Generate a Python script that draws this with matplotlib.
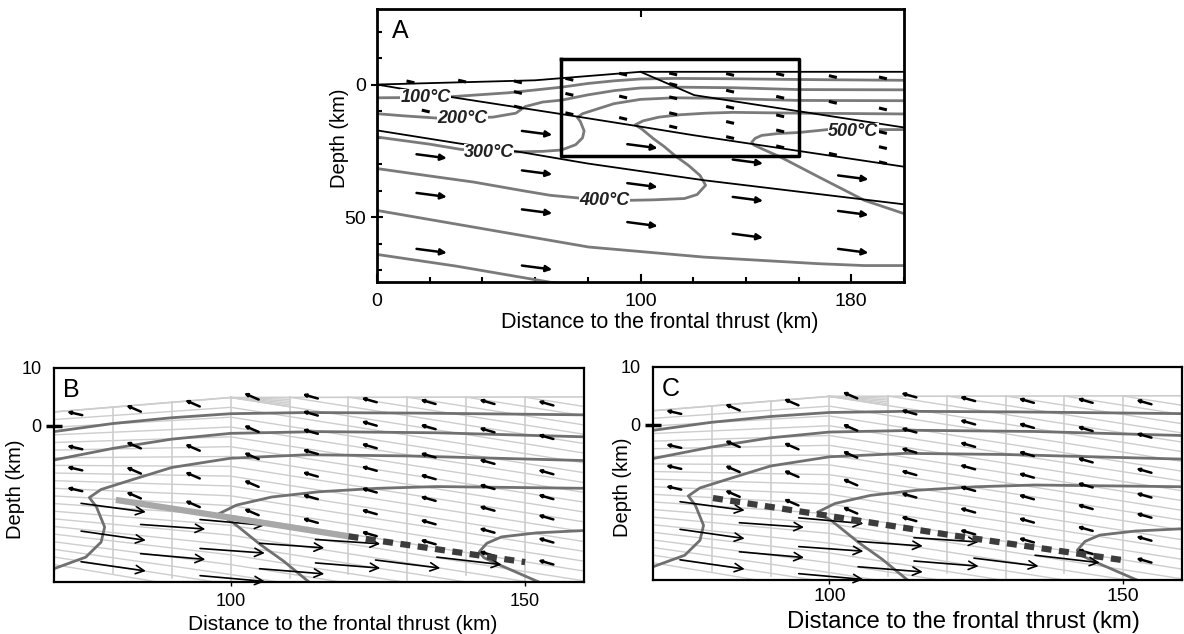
import numpy as np
import matplotlib
matplotlib.use('Agg')
import matplotlib.pyplot as plt

plt.rcParams['font.family'] = ['Liberation Sans', 'DejaVu Sans']

# ---------------- data (distance km, depth km positive down) ----------------
surface_x = [0, 60, 100, 200]
surface_z = [0.0, -1.6, -4.8, -4.8]
thrust_x = [100, 120.4, 200]
thrust_z = [-4.8, 4.0, 16.2]
interface_x = [0, 28, 69, 97, 120, 200]
interface_z = [0.0, 4.7, 11.0, 15.4, 19.1, 31.0]
moho_x = [0, 31.6, 54, 80, 124, 200]
moho_z = [17.3, 22.3, 25.4, 29.8, 36.1, 45.2]

iso100_x = [0, 15, 28, 50, 70, 80, 90, 100, 113, 132, 160, 200]
iso100_z = [5.0, 4.9, 4.6, 3.1, 1.0, -0.4, -1.4, -2.1, -2.3, -2.2, -1.9, -1.6]
iso200_x = [0, 10, 25, 44, 52.7, 56.3, 62.9, 70, 80, 90, 100, 115, 135, 160, 200]
iso200_z = [11.0, 11.8, 12.8, 12.3, 10.8, 8.3, 6.6, 5.9, 3.9, 2.3, 1.3, 1.0, 1.2, 1.9, 2.0]
iso300_x = [0, 20, 32, 53, 63, 70, 75.4, 78.0, 78.6, 77.2, 76.0, 78, 83, 90, 100, 113, 130, 160, 200]
iso300_z = [19.8, 22.5, 24.5, 25.4, 25.2, 24.7, 22.7, 20.1, 17.5, 14.0, 12.4, 11.0, 9.4, 7.2,
            5.6, 5.0, 5.2, 6.0, 6.1]
iso400_x = [0, 20, 36.7, 55, 65.8, 86, 95, 105, 116.7, 121.5, 124.7, 122.6, 118.2, 113.3,
            109, 105, 100.5, 98.0, 101, 107, 115, 125, 135, 160, 200]
iso400_z = [31.7, 34.5, 36.8, 40.0, 41.8, 43.7, 43.7, 43.5, 43.0, 41.5, 38.0, 34.3, 30.5, 27.0,
            23.4, 20.5, 16.8, 15.2, 13.7, 12.3, 11.4, 10.8, 10.5, 10.8, 11.1]
iso500_x = [200, 185, 167.7, 153, 146, 143, 142.2, 143.5, 146, 152, 160, 171, 200]
iso500_z = [48.7, 43.7, 34.9, 27.3, 24.2, 22.8, 21.8, 20.3, 19.2, 18.5, 18.1, 17.0, 17.0]
iso600_x = [0, 36.7, 80.3, 124, 167.7, 185, 200]
iso600_z = [47.5, 53.8, 61.3, 65.1, 67.6, 68.3, 68.3]
iso700_x = [0, 30, 65.8, 80]
iso700_z = [64.1, 68.5, 74.6, 77.0]

iso_labels = ['100°C', '200°C', '300°C', '400°C', '500°C']
iso_label_x = [18.5, 32.6, 42.5, 86.2, 180.8]
iso_label_z = [4.9, 12.8, 25.7, 43.7, 17.9]

# panel A velocity arrows
a_slab_x = [15, 15, 15, 55, 55, 55, 55, 95, 95, 95, 135, 135, 135, 175, 175, 175]
a_slab_z = [26.3, 40.9, 62.0, 17.5, 32.4, 47.1, 68.3, 22.5, 37.2, 51.9, 28.3, 42.4, 56.3,
            34.3, 47.7, 62.0]
a_wedge_x = [12.7, 18.5, 32.3, 53.5, 53.5, 53.5, 73, 73, 73, 93.4, 93.4, 93.4,
             112.4, 112.4, 112.4, 112.4, 112.4, 134, 134, 134, 134, 134,
             153, 153, 153, 153, 153, 173, 173, 173, 192, 192, 192, 192, 192]
a_wedge_z = [-1.0, 10.0, -1.3, -1.0, 3.0, 8.5, -2.0, 3.7, 11.0, -3.9, 4.7, 12.8,
             -4.0, 0.0, 5.0, 11.0, 16.0, -3.8, 2.5, 8.6, 14.3, 20.0,
             -3.8, 4.8, 11.8, 17.5, 23.5, -3.0, 6.7, 26.3, -2.5, 9.2, 18.1, 23.8, 29.5]

# panels B/C velocity arrows (small: centres, long: tails)
bc_small_x = [73.5, 73.5, 73.5, 73.5, 83.5, 83.5, 83.5, 83.5, 93.5, 93.5, 93.5, 93.5,
              103.5, 103.5, 103.5, 103.5, 103.5,
              113.5, 113.5, 113.5, 113.5, 113.5, 113.5, 113.5,
              123.5, 123.5, 123.5, 123.5, 123.5, 123.5, 123.5,
              133.5, 133.5, 133.5, 133.5, 133.5, 133.5, 133.5,
              143.5, 143.5, 143.5, 143.5, 143.5, 143.5, 143.5,
              153.5, 153.5, 153.5, 153.5, 153.5, 153.5, 153.5]
bc_small_z = [-2.15, 3.75, 7.4, 11.0, -3.0, 3.35, 7.7, 12.0, -3.9, 3.75, 8.55, 13.5,
              -5.1, 0.5, 5.2, 10.0, 14.9,
              -5.1, -2.15, 1.0, 4.5, 8.4, 12.3, 16.4,
              -4.45, -0.4, 3.5, 7.4, 11.15, 14.9, 18.7,
              -4.15, 0.2, 5.1, 8.85, 12.6, 16.65, 20.1,
              -4.15, 0.75, 6.2, 10.55, 14.3, 18.1, 22.1,
              -3.9, 1.9, 8.0, 12.3, 15.8, 19.8, 23.6]
bc_long_x = [74.6, 74.6, 74.6, 84.7, 84.7, 94.8, 94.8, 94.8, 104.9, 104.9, 114.4, 114.4,
             124.6, 135.0]
bc_long_z = [13.4, 18.2, 23.5, 17.05, 22.1, 16.2, 21.2, 25.9, 20.3, 24.7, 19.65, 23.7,
             23.2, 22.7]
bc_long_dz = [1.5, 1.6, 1.6, 0.8, 1.0, 1.0, 0.8, 1.0, 0.8, 0.9, 0.75, 0.9, 1.4, 1.3]

mesh_cols = [80, 90, 100, 110, 120, 130, 140, 150]
mesh_col_bottom = [25.4, 26.3, 27.5, 26.3, 25.7, 26.8, 25.8, 27.5]

# ---------------- figure ----------------
fig = plt.figure(figsize=(11.84, 6.34), dpi=100)
axA = fig.add_axes([377 / 1184, 1 - 282 / 634, 527 / 1184, 273 / 634])
axB = fig.add_axes([54 / 1184, 1 - 582 / 634, 530 / 1184, 214 / 634])
axC = fig.add_axes([653 / 1184, 1 - 580 / 634, 529 / 1184, 213 / 634])

isotherms = [(iso100_x, iso100_z), (iso200_x, iso200_z), (iso300_x, iso300_z),
             (iso400_x, iso400_z), (iso500_x, iso500_z), (iso600_x, iso600_z),
             (iso700_x, iso700_z)]


def arrow(ax, x, z, u, v, style, lw, ms, zo=4):
    ax.annotate('', xy=(x + u, z + v), xytext=(x, z),
                arrowprops=dict(arrowstyle=style, color='black', lw=lw,
                                mutation_scale=ms, shrinkA=0, shrinkB=0),
                zorder=zo)


# ---- panel A ----
ax = axA
for xs, zs in isotherms:
    ax.plot(xs, zs, color='#7a7a7a', lw=2.0, zorder=2)
for xs, zs in [(surface_x, surface_z), (thrust_x, thrust_z),
               (interface_x, interface_z), (moho_x, moho_z)]:
    ax.plot(xs, zs, color='black', lw=1.3, zorder=3)
ax.plot([70, 160, 160, 70, 70], [-9.5, -9.5, 27, 27, -9.5], color='black', lw=2.5, zorder=6)
for x, z in zip(a_slab_x, a_slab_z):
    arrow(ax, x, z, 11.5, 1.5, '-|>', 1.8, 9)
for x, z in zip(a_wedge_x, a_wedge_z):
    ax.plot([x - 1.5, x + 1.5], [z - 0.35, z + 0.35], color='black', lw=2.2,
            solid_capstyle='butt', zorder=4)
for lab, x, z in zip(iso_labels, iso_label_x, iso_label_z):
    ax.text(x, z, lab, fontsize=13, fontweight='bold', fontstyle='italic',
            ha='center', va='center', color='#222222', zorder=7,
            bbox=dict(fc='white', ec='none', pad=0.2))
ax.set_xlim(0, 200)
ax.set_ylim(74.5, -28.5)
ax.set_xticks([0, 100, 180])
ax.set_xticks(np.arange(0, 201, 20), minor=True)
ax.set_yticks([0, 50])
ax.set_yticks(np.arange(-20, 71, 10), minor=True)
ax.tick_params(axis='x', which='major', direction='in', length=6, width=1.5, labelsize=14, pad=8)
ax.tick_params(axis='x', which='minor', direction='in', length=3.5, width=1.5)
ax.tick_params(axis='y', which='major', direction='inout', length=9, width=1.5, labelsize=14)
ax.tick_params(axis='y', which='minor', direction='in', length=3.5, width=1.5)
top = ax.secondary_xaxis('top')
top.set_xticks([100])
top.set_xticklabels([])
top.tick_params(direction='in', length=6, width=1.5)
ax.set_xlabel('Distance to the frontal thrust (km)', fontsize=15.5)
ax.xaxis.set_label_coords(0.537, -0.11)
ax.set_ylabel('Depth (km)', fontsize=14.5)
ax.yaxis.set_label_coords(-0.053, 0.527)
ax.text(0.028, 0.965, 'A', transform=ax.transAxes, fontsize=18, va='top', ha='left')
for s in ax.spines.values():
    s.set_linewidth(2)


# ---- panels B and C ----
def top_of(x):
    return np.interp(x, [70, 100, 160], [-2.4, -4.9, -5.0])


def draw_mesh(ax):
    mc = '#cdcdcd'
    # surface
    ax.plot([70, 100, 160], [-2.4, -4.9, -5.0], color=mc, lw=1.2, zorder=1)
    # columns
    for x, zb in zip(mesh_cols, mesh_col_bottom):
        ax.plot([x, x], [top_of(x), zb], color=mc, lw=1.2, zorder=1)
    # slab-parallel lines fanning into the wedge
    for i in range(0, 21):
        c = -4.9 + 1.7 * i
        z70 = -2.4 + i * 1.32
        ax.plot([70, 100, 160], [z70, c, c + 0.16 * 60], color=mc, lw=1.0, zorder=1)
    # fan at the backstop apex
    for j in range(1, 6):
        ax.plot([100, 110], [-4.9, -4.9 + 0.32 * j], color=mc, lw=1.0, zorder=1)
    # lines emerging from the surface to the right of the apex
    for xe in [110, 120, 130, 140, 150]:
        ax.plot([xe, 160], [-4.95, -4.95 + 0.16 * (160 - xe)], color=mc, lw=1.0, zorder=1)


def draw_bc(ax, letter, tick_size, xlab_size, xlab_pos, ylab_x, tick_pad):
    draw_mesh(ax)
    for xs, zs in isotherms:
        ax.plot(xs, zs, color='#707070', lw=2.0, zorder=2)
    for x, z in zip(bc_small_x, bc_small_z):
        if x < 78:
            u, v = -2.6, -0.6
        elif x < 108:
            u, v = -2.5, -1.1
        else:
            u, v = -2.6, -0.75
        arrow(ax, x - u / 2, z - v / 2, u, v, '-|>', 1.8, 4)
    for x, z, dz in zip(bc_long_x, bc_long_z, bc_long_dz):
        arrow(ax, x, z, 11.0, dz, '->', 1.2, 15)
    ax.set_xlim(70, 160)
    ax.set_ylim(27, -10)
    ax.set_xticks([100, 150])
    ax.set_yticks([-10, 0])
    ax.set_yticklabels(['10', '0'])
    ax.tick_params(axis='x', direction='out', length=3, width=1, labelsize=tick_size, pad=tick_pad)
    ax.tick_params(axis='y', direction='inout', length=12, width=2.5, labelsize=13, pad=3)
    ax.yaxis.get_major_ticks()[0].tick1line.set_visible(False)
    ax.set_xlabel('Distance to the frontal thrust (km)', fontsize=xlab_size)
    ax.xaxis.set_label_coords(xlab_pos[0], xlab_pos[1])
    ax.set_ylabel('Depth (km)', fontsize=14.5)
    ax.yaxis.set_label_coords(ylab_x, 0.435)
    ax.text(0.017, 0.955, letter, transform=ax.transAxes, fontsize=18, va='top', ha='left')
    for s in ax.spines.values():
        s.set_linewidth(1.6)


draw_bc(axB, 'B', 13, 15, (0.545, -0.155), -0.054, 5)
draw_bc(axC, 'C', 14, 17.2, (0.586, -0.145), -0.040, 3)

# interface highlight in B: solid light segment then dashed continuation
xb1 = [80.5, 97, 120]
axB.plot(xb1, np.interp(xb1, interface_x, interface_z), color='#a8a8a8', lw=4.5,
         solid_capstyle='butt', zorder=5)
xb2 = [120, 150]
axB.plot(xb2, np.interp(xb2, interface_x, interface_z), color='#3c3c3c', lw=4.5,
         dashes=(1.6, 1.2), zorder=5)
xc = [80.2, 97, 120, 150.2]
axC.plot(xc, np.interp(xc, interface_x, interface_z), color='#3c3c3c', lw=4.5,
         dashes=(1.6, 1.2), zorder=5)

fig.savefig('out.png', dpi=100)
